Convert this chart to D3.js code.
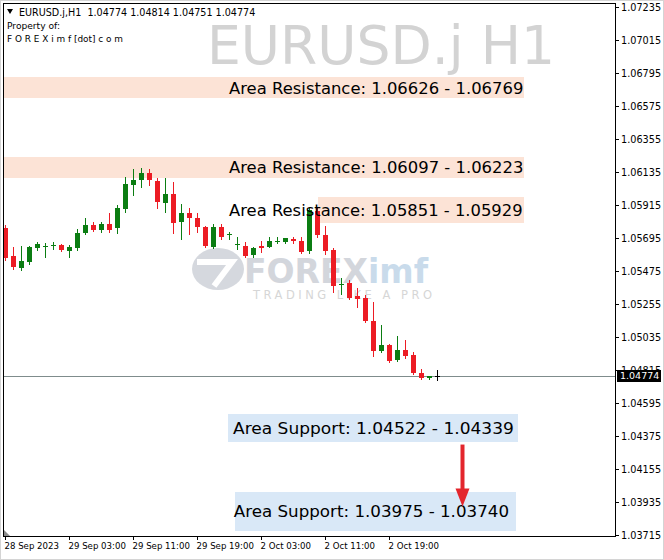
<!DOCTYPE html>
<html><head><meta charset="utf-8">
<script src="https://cdn.jsdelivr.net/npm/d3@7"></script>
<style>html,body{margin:0;padding:0;background:#fff;} svg{display:block;}</style>
</head><body>
<svg id="c" width="664" height="560"></svg>
<script>
// ---------- DATA ----------
const headerText = "EURUSD.j,H1  1.04774 1.04814 1.04751 1.04774";
const ownerLines = ["Property of:", "F O R E X i m f [dot] c o m"];
const watermarkText = "EURUSD.j H1";

// hourly bars, 28 Sep 2023 19:00 -> 3 Oct 2023 01:00 (bar index 0..54)
const opens  = [1.05762,1.05575,1.05495,1.05535,1.05628,1.05642,1.05645,1.05648,1.05608,1.05628,
                1.05728,1.05782,1.05748,1.05788,1.05762,1.05888,1.06048,1.06082,1.06128,1.06075,
                1.05928,1.05988,1.05802,1.05862,1.05828,1.05768,1.05635,1.05768,1.05718,1.05652,
                1.05642,1.05582,1.05642,1.05635,1.05672,1.05668,1.05688,1.05675,1.05608,1.05875,
                1.05715,1.05615,1.05385,1.05395,1.05308,1.05295,1.05142,1.04942,1.04982,1.04882,
                1.04948,1.04915,1.04795,1.04762,1.04774];
const highs  = [1.05782,1.05635,1.05644,1.05642,1.05668,1.05662,1.05668,1.05655,1.05648,1.05755,
                1.05828,1.05802,1.05802,1.05862,1.05915,1.06102,1.06155,1.06162,1.06155,1.06095,
                1.06095,1.06068,1.05922,1.05895,1.05862,1.05775,1.05788,1.05788,1.05737,1.05702,
                1.05668,1.05635,1.05675,1.05702,1.05702,1.05698,1.05702,1.05702,1.05895,1.05895,
                1.05775,1.05628,1.05428,1.05415,1.05362,1.05315,1.05268,1.05115,1.04988,1.05042,
                1.05015,1.04935,1.04822,1.04775,1.04814];
const lows   = [1.05548,1.05488,1.05482,1.05522,1.05615,1.05568,1.05622,1.05608,1.05568,1.05615,
                1.05722,1.05742,1.05735,1.05735,1.05728,1.05868,1.05982,1.06035,1.06048,1.05895,
                1.05868,1.05728,1.05688,1.05722,1.05735,1.05635,1.05628,1.05688,1.05688,1.05622,
                1.05568,1.05568,1.05602,1.05632,1.05662,1.05662,1.05662,1.05595,1.05595,1.05702,
                1.05588,1.05335,1.05322,1.05288,1.05235,1.05135,1.04908,1.04938,1.04868,1.04875,
                1.04895,1.04788,1.04758,1.04758,1.04751];
const closes = [1.05562,1.05502,1.05542,1.05635,1.05655,1.05645,1.05648,1.05615,1.05635,1.05728,
                1.05782,1.05748,1.05788,1.05748,1.05895,1.06055,1.06082,1.06128,1.06082,1.05935,
                1.05988,1.05795,1.05862,1.05828,1.05768,1.05642,1.05768,1.05702,1.05722,1.05655,
                1.05575,1.05628,1.05628,1.05675,1.05675,1.05695,1.05678,1.05602,1.05882,1.05715,
                1.05608,1.05375,1.05388,1.05295,1.05288,1.05142,1.04942,1.04982,1.04875,1.04948,
                1.04908,1.04795,1.04762,1.04772,1.04774];

const priceTicks = [1.07235,1.07015,1.06795,1.06575,1.06355,1.06135,1.05915,1.05695,1.05475,
                    1.05255,1.05035,1.04815,1.04595,1.04375,1.04155,1.03935,1.03715];
const timeTickBars = [0, 8, 16, 24, 32, 40, 48];
const timeTickLabels = ["28 Sep 2023","29 Sep 03:00","29 Sep 11:00","29 Sep 19:00","2 Oct 03:00","2 Oct 11:00","2 Oct 19:00"];

const lastPrice = 1.04774;

const zoneLabels = ["Area Resistance: 1.06626 - 1.06769","Area Resistance: 1.06097 - 1.06223",
                    "Area Resistance: 1.05851 - 1.05929","Area Support: 1.04522 - 1.04339",
                    "Area Support: 1.03975 - 1.03740"];
const zoneKind  = ["res","res","res","sup","sup"];
const zoneHigh  = [1.06769, 1.06235, 1.05968, 1.04522, 1.04000];
const zoneLow   = [1.06626, 1.06095, 1.05795, 1.04335, 1.03745];
const zoneStartBar = [-2, -2, 39.1, 27.85, 28.75];
const zoneEndBar   = [64.9, 64.9, 64.9, 64.1, 63.85];
const zoneLabelEndBar = [64.8, 64.8, 64.7, 63.6, 63.0];
const zoneLabelStartBar = [28.0, 28.0, 28.0, 28.5, 28.6];

const arrowBar = 57.1, arrowFrom = 1.04318, arrowTo = 1.03905;

// ---------- CHART ----------
const svg = d3.select("#c");
const F = "'DejaVu Sans', Verdana, sans-serif";
const frame = {l:3.5, t:3.5, r:615.5, b:536.5};
const x = d3.scaleLinear().domain([0, 76]).range([5, 5 + 76*8]);
const y = d3.scaleLinear().domain([1.03715, 1.07235]).range([535, 7]);

svg.append("rect").attr("x",0.5).attr("y",0.5).attr("width",663).attr("height",559)
  .attr("fill","#fff").attr("stroke","#d4d4d4");

svg.append("defs").append("clipPath").attr("id","plot")
  .append("rect").attr("x",4).attr("y",4).attr("width",611).attr("height",532);

const plot = svg.append("g").attr("clip-path","url(#plot)");

// big watermark
plot.append("text").attr("x",207).attr("y",64).attr("font-family",F).attr("font-size",53.5)
  .attr("textLength",348).attr("lengthAdjust","spacingAndGlyphs")
  .attr("fill","#d3d3d3").text(watermarkText);

// logo watermark
const logo = plot.append("g");
logo.append("ellipse").attr("cx",218).attr("cy",269).attr("rx",26).attr("ry",21).attr("fill","#d5d8de");
logo.append("path").attr("d","M197 262 L232 262 L214 286").attr("fill","none")
  .attr("stroke","#fff").attr("stroke-width",6);
logo.append("text").attr("x",244).attr("y",283).attr("font-family",F).attr("font-weight","bold")
  .attr("font-size",33).attr("fill","#d3d6dc").text("FOREX")
  .append("tspan").attr("fill","#c9dbeb").text("imf");
logo.append("text").attr("x",253).attr("y",299).attr("font-family",F).attr("font-size",11.5)
  .attr("fill","#d6d6d6").attr("textLength",179).attr("lengthAdjust","spacing").text("TRADING LIKE A PRO");

// zones
const zones = d3.range(zoneLabels.length).map(i => ({
  label: zoneLabels[i], kind: zoneKind[i], hi: zoneHigh[i], lo: zoneLow[i], s: zoneStartBar[i], e: zoneEndBar[i],
  ls: zoneLabelStartBar[i], le: zoneLabelEndBar[i]
}));
plot.selectAll("rect.zone").data(zones).join("rect").attr("class","zone")
  .attr("x", d => Math.round(x(d.s))).attr("width", d => Math.round(x(d.e)) - Math.round(x(d.s)))
  .attr("y", d => Math.round(y(d.hi))).attr("height", d => Math.round(y(d.lo)) - Math.round(y(d.hi)))
  .attr("fill", d => d.kind === "res" ? "#fce3d6" : "#d9e8f7");

// current price line
plot.append("line").attr("x1",4).attr("x2",615)
  .attr("y1", Math.round(y(lastPrice)) + 0.5).attr("y2", Math.round(y(lastPrice)) + 0.5)
  .attr("stroke","#7f8c8c").attr("stroke-width",1);

// candles
const bars = opens.map((o,i) => ({i, o, h: highs[i], l: lows[i], c: closes[i]}));
const col = d => d.c > d.o ? "#0b7d12" : d.c < d.o ? "#ec1c24" : "#000";
const cg = plot.append("g");
cg.selectAll("line.wick").data(bars).join("line").attr("class","wick")
  .attr("x1", d => x(d.i) + 0.5).attr("x2", d => x(d.i) + 0.5)
  .attr("y1", d => Math.round(y(d.h))).attr("y2", d => Math.round(y(d.l)) + 1)
  .attr("stroke", col).attr("stroke-width",1);
cg.selectAll("rect.body").data(bars).join("rect").attr("class","body")
  .attr("x", d => x(d.i) - 2).attr("width", 5)
  .attr("y", d => Math.round(y(Math.max(d.o,d.c))))
  .attr("height", d => Math.max(1, Math.round(y(Math.min(d.o,d.c))) - Math.round(y(Math.max(d.o,d.c)))))
  .attr("fill", col);

// zone labels
plot.selectAll("text.zl").data(zones).join("text").attr("class","zl")
  .attr("x", d => x(d.ls)).attr("y", d => (y(d.hi) + y(d.lo))/2)
  .attr("dy","0.36em").attr("text-anchor","start")
  .attr("textLength", d => x(d.le) - x(d.ls)).attr("lengthAdjust","spacingAndGlyphs")
  .attr("font-family",F).attr("font-size",16.6).attr("fill","#000").text(d => d.label);

// arrow
const ax = Math.round(x(arrowBar)) + 0.5;
plot.append("line").attr("x1",ax).attr("x2",ax).attr("y1",y(arrowFrom)).attr("y2",y(arrowTo) - 14)
  .attr("stroke","#e3262d").attr("stroke-width",4);
plot.append("path").attr("d", `M${ax-7},${y(arrowTo)-18} L${ax+7},${y(arrowTo)-18} L${ax},${y(arrowTo)} Z`)
  .attr("fill","#e3262d");

// frame
svg.append("rect").attr("x",frame.l).attr("y",frame.t).attr("width",frame.r-frame.l).attr("height",frame.b-frame.t)
  .attr("fill","none").attr("stroke","#000");
svg.append("path").attr("d","M4,530 L4,536 L10,536 Z").attr("fill","#8a8a8a");

// axes
const yAxis = d3.axisRight(y).tickValues(priceTicks).tickFormat(d3.format(".5f"))
  .tickSize(4).tickSizeOuter(0).tickPadding(2);
const gy = svg.append("g").attr("transform",`translate(${frame.r - 0.5},0)`).call(yAxis);
gy.select(".domain").remove();
gy.selectAll("line").attr("stroke","#000");
gy.selectAll("text").attr("font-family",F).attr("font-size",9.7).attr("fill","#000");

const xAxis = d3.axisBottom(x).tickValues(timeTickBars).tickFormat((d,i) => timeTickLabels[i])
  .tickSize(4).tickSizeOuter(0).tickPadding(3);
const gx = svg.append("g").attr("transform",`translate(0,${frame.b - 0.5})`).call(xAxis);
gx.select(".domain").remove();
gx.selectAll("line").attr("stroke","#000");
gx.selectAll("text").attr("font-family",F).attr("font-size",8.6).attr("fill","#000")
  .attr("text-anchor","start").attr("x",-1);

// last price marker
const ly = Math.round(y(lastPrice));
svg.append("rect").attr("x",617).attr("y",ly-6).attr("width",44).attr("height",12).attr("fill","#000");
svg.append("text").attr("x",620).attr("y",ly).attr("dy","0.35em").attr("font-family",F)
  .attr("font-size",9.5).attr("fill","#fff").text(d3.format(".5f")(lastPrice));

// header
svg.append("path").attr("d","M7,9 L13,9 L10,14 Z").attr("fill","#000");
svg.append("text").attr("x",19).attr("y",15.5).attr("font-family",F).attr("font-size",9.6)
  .attr("fill","#000").style("white-space","pre").text(headerText);
svg.selectAll("text.own").data(ownerLines).join("text").attr("class","own")
  .attr("x",7).attr("y",(d,i) => 29 + i*12.5).attr("font-family",F).attr("font-size",9.3)
  .attr("textLength",(d,i) => i === 0 ? 53 : 116).attr("lengthAdjust","spacingAndGlyphs")
  .attr("fill","#000").style("white-space","pre").text(d => d);
</script>
</body></html>
